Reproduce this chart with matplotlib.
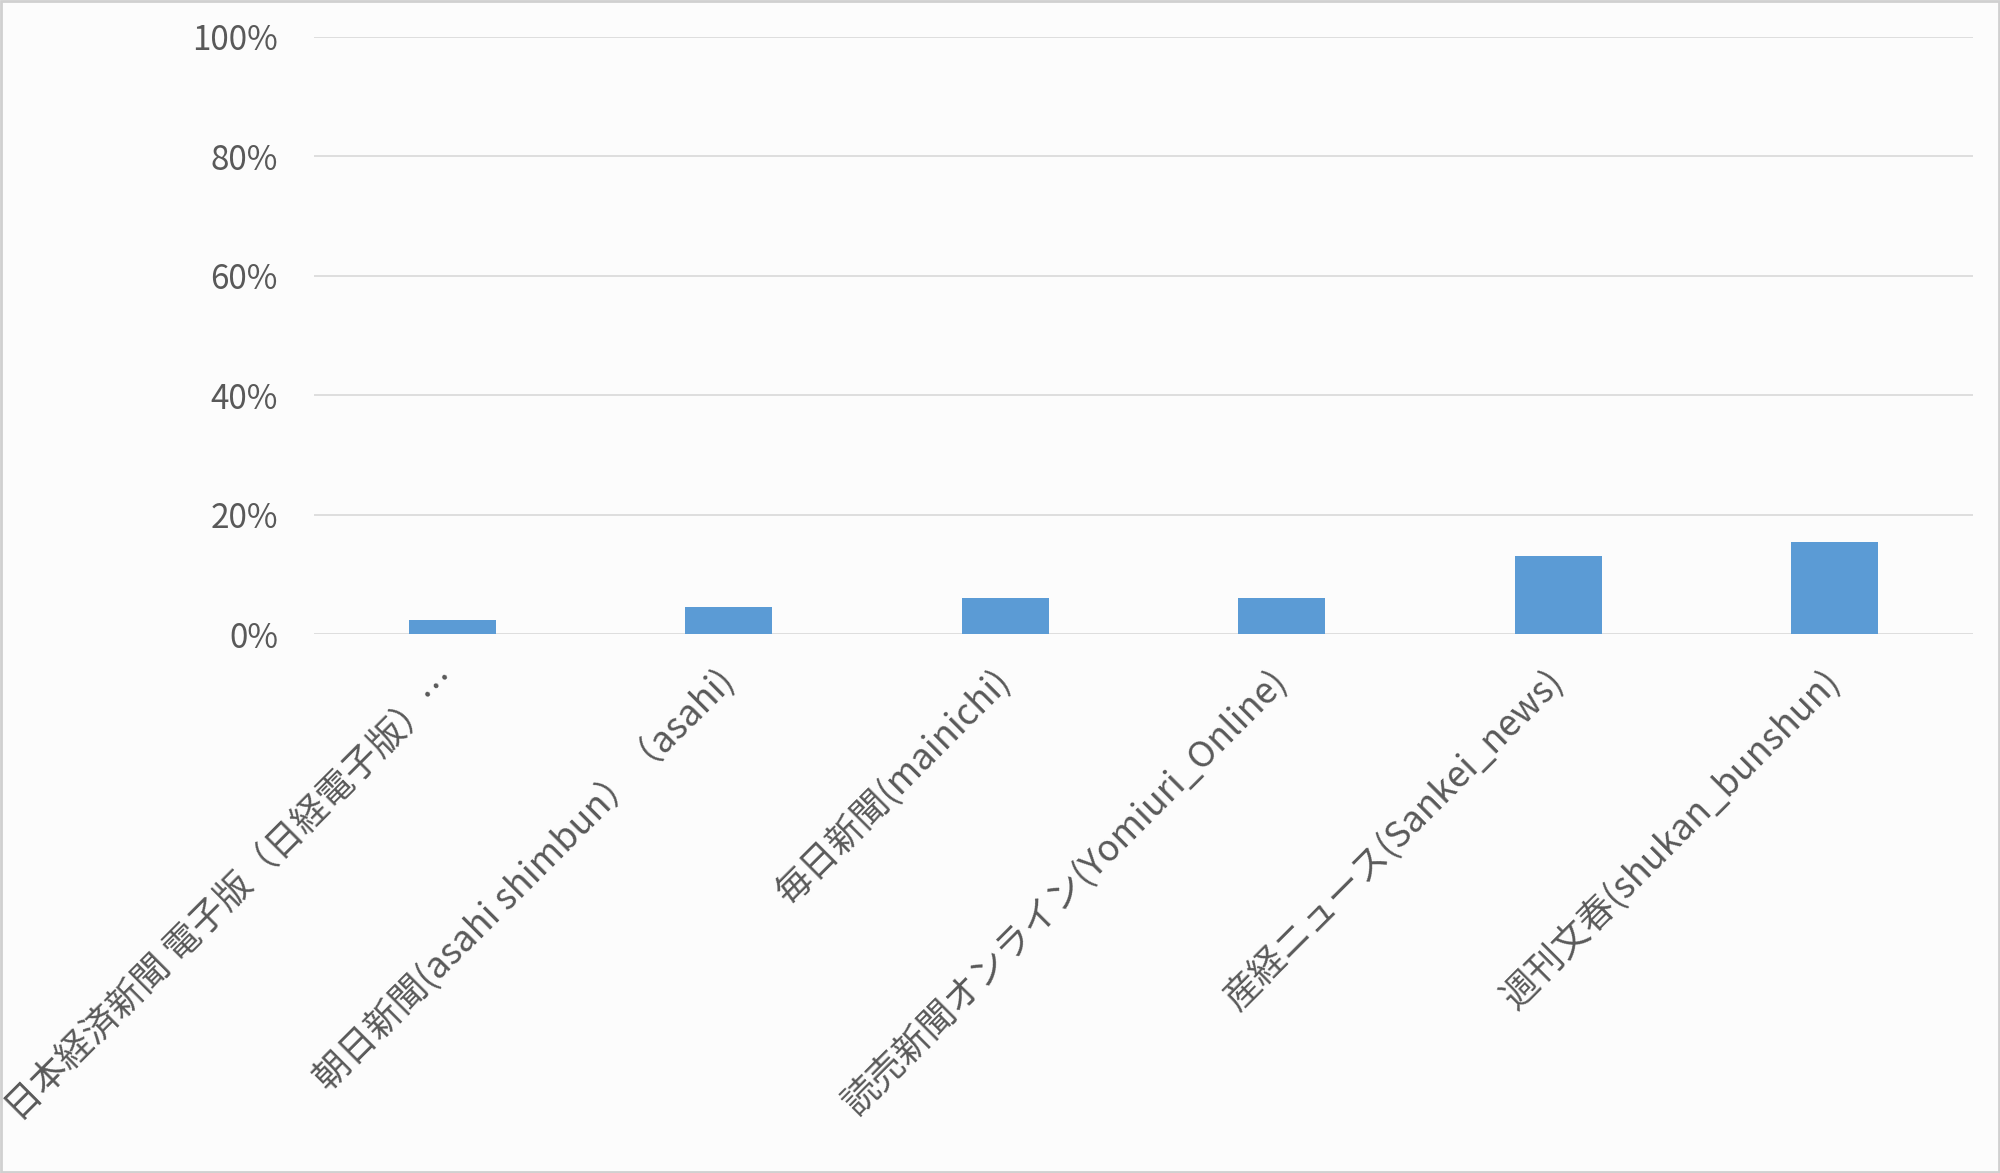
import numpy as np
import matplotlib
matplotlib.use("Agg")
import matplotlib.pyplot as plt
from matplotlib.ticker import PercentFormatter

plt.rcParams['font.family'] = ['Noto Sans CJK JP', 'DejaVu Sans']

labels = [
    "日本経済新聞 電子版（日経電子版）…",
    "朝日新聞(asahi shimbun）（asahi)",
    "毎日新聞(mainichi)",
    "読売新聞オンライン(Yomiuri_Online)",
    "産経ニュース(Sankei_news)",
    "週刊文春(shukan_bunshun)",
]
shares = [2.4, 4.6, 6.1, 6.0, 13.1, 15.4]  # percent
yticks = [0, 20, 40, 60, 80, 100]

bg = '#fcfcfc'
text_col = '#595959'

fig = plt.figure(figsize=(20, 11.73), dpi=100, facecolor=bg)
ax = fig.add_axes([0.157, 0.4595, 0.8295, 0.509], facecolor=bg)

x = np.arange(len(labels))
ax.bar(x, shares, width=0.314, color='#5b9bd5', zorder=3)

ax.set_xlim(-0.5, len(labels) - 0.5)
ax.set_ylim(0, 100)
ax.set_yticks(yticks)
ax.yaxis.set_major_formatter(PercentFormatter(decimals=0))
ax.grid(axis='y', color='#d9d9d9', linewidth=1.2, zorder=0)

for s in ax.spines.values():
    s.set_visible(False)

ax.tick_params(axis='y', length=0, pad=26, labelsize=24, labelcolor=text_col)
ax.tick_params(axis='x', length=0, pad=30, labelsize=26, labelcolor=text_col)
ax.set_xticks(x)
ax.set_xticklabels(labels, rotation=45, ha='right', va='center', rotation_mode='anchor')

# light frame around the whole chart
fig.patches.append(plt.Rectangle((0.0005, 0.0008), 0.999, 0.9985, transform=fig.transFigure,
                                 fill=False, edgecolor='#d0d0d0', linewidth=2))

fig.savefig('out.png', dpi=100, facecolor=bg)
